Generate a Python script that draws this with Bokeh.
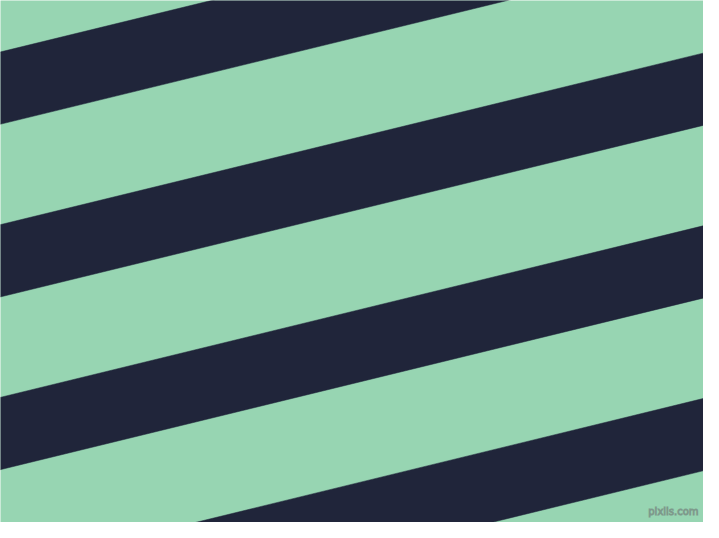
from bokeh.plotting import figure
from bokeh.models import Range1d, ColumnDataSource
from bokeh.core.properties import value
from bokeh.embed import file_html
from bokeh.resources import INLINE

# Stripe data (reference pixel coordinates, y measured downward at x=0)
stripe_top_at_left = [53.0, 231.0, 409.0, 587.0]
stripe_bottom_at_left = [127.5, 305.5, 483.5, 661.5]
stripe_slope = -0.246  # change of y per unit x (stripes rise to the right)
light_color = "#97d5b2"
dark_color = "#20253a"
watermark = ["pixlis.com"]

x_left, x_right = -40.0, 760.0

xs, ys = [], []
for t, b in zip(stripe_top_at_left, stripe_bottom_at_left):
    xs.append([x_left, x_right, x_right, x_left])
    ys.append([t + stripe_slope * x_left, t + stripe_slope * x_right,
               b + stripe_slope * x_right, b + stripe_slope * x_left])

p = figure(width=703, height=522, output_backend="svg", toolbar_location=None,
           x_range=Range1d(0, 719), y_range=Range1d(538, 0),
           min_border=0, min_border_left=0, min_border_right=0,
           min_border_top=0, min_border_bottom=0)
p.axis.visible = False
p.grid.visible = False
p.outline_line_color = None
p.background_fill_color = light_color
p.border_fill_color = light_color

p.patches(xs=xs, ys=ys, fill_color=dark_color, line_color=dark_color, line_width=0.5)

src = ColumnDataSource(dict(x=[714], y=[532], t=watermark))
p.text(x="x", y="y", text="t", source=src, text_align="right", text_baseline="bottom",
       text_font=value("DejaVu Sans"), text_font_size="10px",
       text_color="#e4f1ea", text_outline_color="#7d9a8b")

open("out.html", "w").write(file_html(p, INLINE))
